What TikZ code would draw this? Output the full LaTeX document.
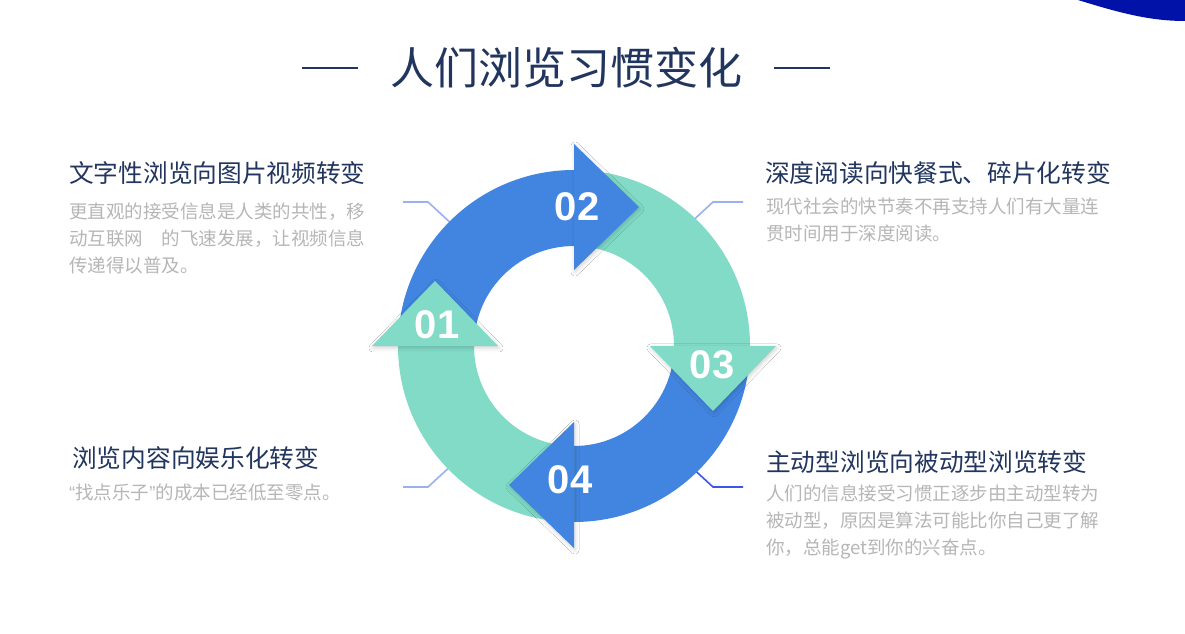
\documentclass[tikz,border=0pt]{standalone}
\usepackage{fontspec}
\setmainfont{Noto Sans CJK SC}
\newfontfamily\numfont{Liberation Sans}
\newfontfamily\quotefont{Liberation Sans}
\usetikzlibrary{calc,shadows.blur}
\definecolor{titlenavy}{RGB}{33,53,94}
\definecolor{bodygrey}{RGB}{182,182,182}
\definecolor{arcblue}{RGB}{66,133,224}
\definecolor{arcgreen}{RGB}{129,219,199}
\definecolor{leaderlight}{RGB}{155,175,245}
\definecolor{leaderdark}{RGB}{60,85,235}
\definecolor{cornerblue}{RGB}{0,18,168}

\begin{document}
\begin{tikzpicture}[
    x=1pt, y=1pt,
    heading/.style={
        anchor=west,
        inner sep=0pt,
        text=titlenavy,
        font=\fontsize{24.7}{28}\selectfont
    },
    body/.style={
        anchor=north west,
        inner sep=0pt,
        align=left,
        text=bodygrey,
        font=\fontsize{18.5}{27}\selectfont
    },
    leader/.style={draw=leaderlight, line width=1.6pt},
    headshadow/.style={
        blur shadow={shadow xshift=1pt, shadow yshift=-2pt,
                     shadow blur radius=4pt, shadow opacity=18}
    },
    num/.style={text=white, font=\numfont\bfseries\fontsize{40}{40}\selectfont}
]

\fill[white] (0,0) rectangle (1185,633);
\useasboundingbox (0,0) rectangle (1185,633);

% corner decoration
\fill[cornerblue] (1078,633) .. controls (1120,620) and (1150,612) .. (1185,612)
    -- (1185,633) -- cycle;

% title
\node[inner sep=0pt, text=titlenavy, font=\fontsize{44}{44}\selectfont]
    (title) at (566,565) {人们浏览习惯变化};
\draw[titlenavy, line width=1.6pt] ([xshift=-32pt]title.west) -- ++(-56,0);
\draw[titlenavy, line width=1.6pt] ([xshift=32pt]title.east) -- ++(56,0);

% leader lines
\coordinate (lead1) at (403,431);
\coordinate (lead2) at (743,431);
\coordinate (lead3) at (403,146);
\coordinate (lead4) at (743,146);
\draw[leader] (lead1) -- ++(25,0) -- ++(26,-24);
\draw[leader] (lead2) -- ++(-30,0) -- ++(-26,-24);
\draw[leader] (lead3) -- ++(25,0) -- ++(26,24);
\draw[leader, draw=leaderdark] (lead4) -- ++(-30,0) -- ++(-26,24);

% ring
\begin{scope}[shift={(574,287)}]
  \foreach \a/\c in {90/arcblue, 0/arcgreen, -90/arcblue, 180/arcgreen}
    \fill[\c] (\a+90:176) arc[start angle=\a+90, end angle=\a, radius=176]
        -- (\a:100) arc[start angle=\a, end angle=\a+90, radius=100] -- cycle;
  \foreach \a/\c in {90/arcblue, 0/arcgreen, -90/arcblue, 180/arcgreen}
    \fill[\c, headshadow] (\a:76) -- (\a:202) -- ($(\a:139)+(\a-90:65)$) -- cycle;

  \node[num] (n01) at (-137,21) {01};
  \node[num] (n02) at (3,139) {02};
  \node[num] (n03) at (138,-19) {03};
  \node[num] (n04) at (-4,-134) {04};
\end{scope}

% texts
\node[heading] (h1) at (69,460) {文字性浏览向图片视频转变};
\node[body] (b1) at (69,430) {更直观的接受信息是人类的共性，移\\
    动互联网　的飞速发展，让视频信息\\传递得以普及。};

\node[heading] (h2) at (765,460) {深度阅读向快餐式、碎片化转变};
\node[body] (b2) at (766,435) {现代社会的快节奏不再支持人们有大量连\\贯时间用于深度阅读。};

\node[heading] (h3) at (72,175) {浏览内容向娱乐化转变};
\node[body] (b3) at (69,149) {{\quotefont “}找点乐子{\quotefont ”}的成本已经低至零点。};

\node[heading] (h4) at (766,171) {主动型浏览向被动型浏览转变};
\node[body] (b4) at (766,148) {人们的信息接受习惯正逐步由主动型转为\\
    被动型，原因是算法可能比你自己更了解\\你，总能get到你的兴奋点。};

\end{tikzpicture}
\end{document}
